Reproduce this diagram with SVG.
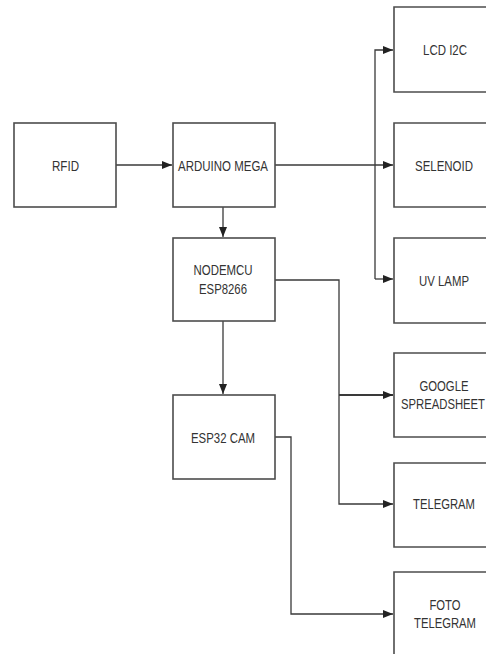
<svg xmlns="http://www.w3.org/2000/svg" width="486" height="654" viewBox="0 0 486 654">
<defs>
<marker id="arr" markerUnits="userSpaceOnUse" markerWidth="10" markerHeight="10" viewBox="0 0 10 10" refX="10" refY="5" orient="auto">
<path d="M0,1 L10,5 L0,9 Z" fill="#222"/>
</marker>
<style>
.box{fill:#fff;stroke:#4d4d4d;stroke-width:1.6}
.lbl{font-family:"Liberation Sans",Arial,sans-serif;font-size:15px;fill:#333;text-anchor:middle}
.ln{fill:none;stroke:#3a3a3a;stroke-width:1.3}
</style>
</defs>
<rect width="486" height="654" fill="#fff"/>
<g id="connectors">
<path class="ln" d="M116,165 H172" marker-end="url(#arr)"/>
<path class="ln" d="M275,165 H393" marker-end="url(#arr)"/>
<path class="ln" d="M375,279 V50 H393" marker-end="url(#arr)"/>
<path class="ln" d="M375,279 H393" marker-end="url(#arr)"/>
<path class="ln" d="M223,207 V237" marker-end="url(#arr)"/>
<path class="ln" d="M275,280 H339 V504 H393" marker-end="url(#arr)"/>
<path class="ln" d="M339,395 H393" style="stroke-width:2" marker-end="url(#arr)"/>
<path class="ln" d="M223,321 V394" marker-end="url(#arr)"/>
<path class="ln" d="M275,437 H291 V614 H393" marker-end="url(#arr)"/>
</g>
<g id="rfid"><rect class="box" x="14" y="123" width="102" height="84"/><text class="lbl" x="65.5" y="170.5" textLength="27" lengthAdjust="spacingAndGlyphs">RFID</text></g>
<g id="arduino"><rect class="box" x="173" y="123" width="102" height="84"/><text class="lbl" x="223" y="170.5" textLength="90" lengthAdjust="spacingAndGlyphs">ARDUINO MEGA</text></g>
<g id="nodemcu"><rect class="box" x="173" y="238" width="102" height="83"/><text class="lbl" x="223" y="275" textLength="59" lengthAdjust="spacingAndGlyphs">NODEMCU</text><text class="lbl" x="223" y="293.5" textLength="48" lengthAdjust="spacingAndGlyphs">ESP8266</text></g>
<g id="esp32cam"><rect class="box" x="173" y="395" width="102" height="84"/><text class="lbl" x="223" y="443" textLength="64" lengthAdjust="spacingAndGlyphs">ESP32 CAM</text></g>
<g id="lcd"><path class="box" d="M486,7 H394 V92 H486"/><text class="lbl" x="445" y="55" textLength="44" lengthAdjust="spacingAndGlyphs">LCD I2C</text></g>
<g id="selenoid"><path class="box" d="M486,123 H394 V207 H486"/><text class="lbl" x="444" y="170.5" textLength="58" lengthAdjust="spacingAndGlyphs">SELENOID</text></g>
<g id="uvlamp"><path class="box" d="M486,238 H394 V323 H486"/><text class="lbl" x="444" y="285.5" textLength="50" lengthAdjust="spacingAndGlyphs">UV LAMP</text></g>
<g id="google"><path class="box" d="M486,353 H394 V437 H486"/><text class="lbl" x="444" y="391" textLength="49" lengthAdjust="spacingAndGlyphs">GOOGLE</text><text class="lbl" x="443" y="409" textLength="84" lengthAdjust="spacingAndGlyphs">SPREADSHEET</text></g>
<g id="telegram"><path class="box" d="M486,463 H394 V547 H486"/><text class="lbl" x="444" y="509" textLength="62" lengthAdjust="spacingAndGlyphs">TELEGRAM</text></g>
<g id="foto"><path class="box" d="M486,572 H394 V654"/><text class="lbl" x="445" y="610" textLength="31" lengthAdjust="spacingAndGlyphs">FOTO</text><text class="lbl" x="445" y="628" textLength="62" lengthAdjust="spacingAndGlyphs">TELEGRAM</text></g>
</svg>
